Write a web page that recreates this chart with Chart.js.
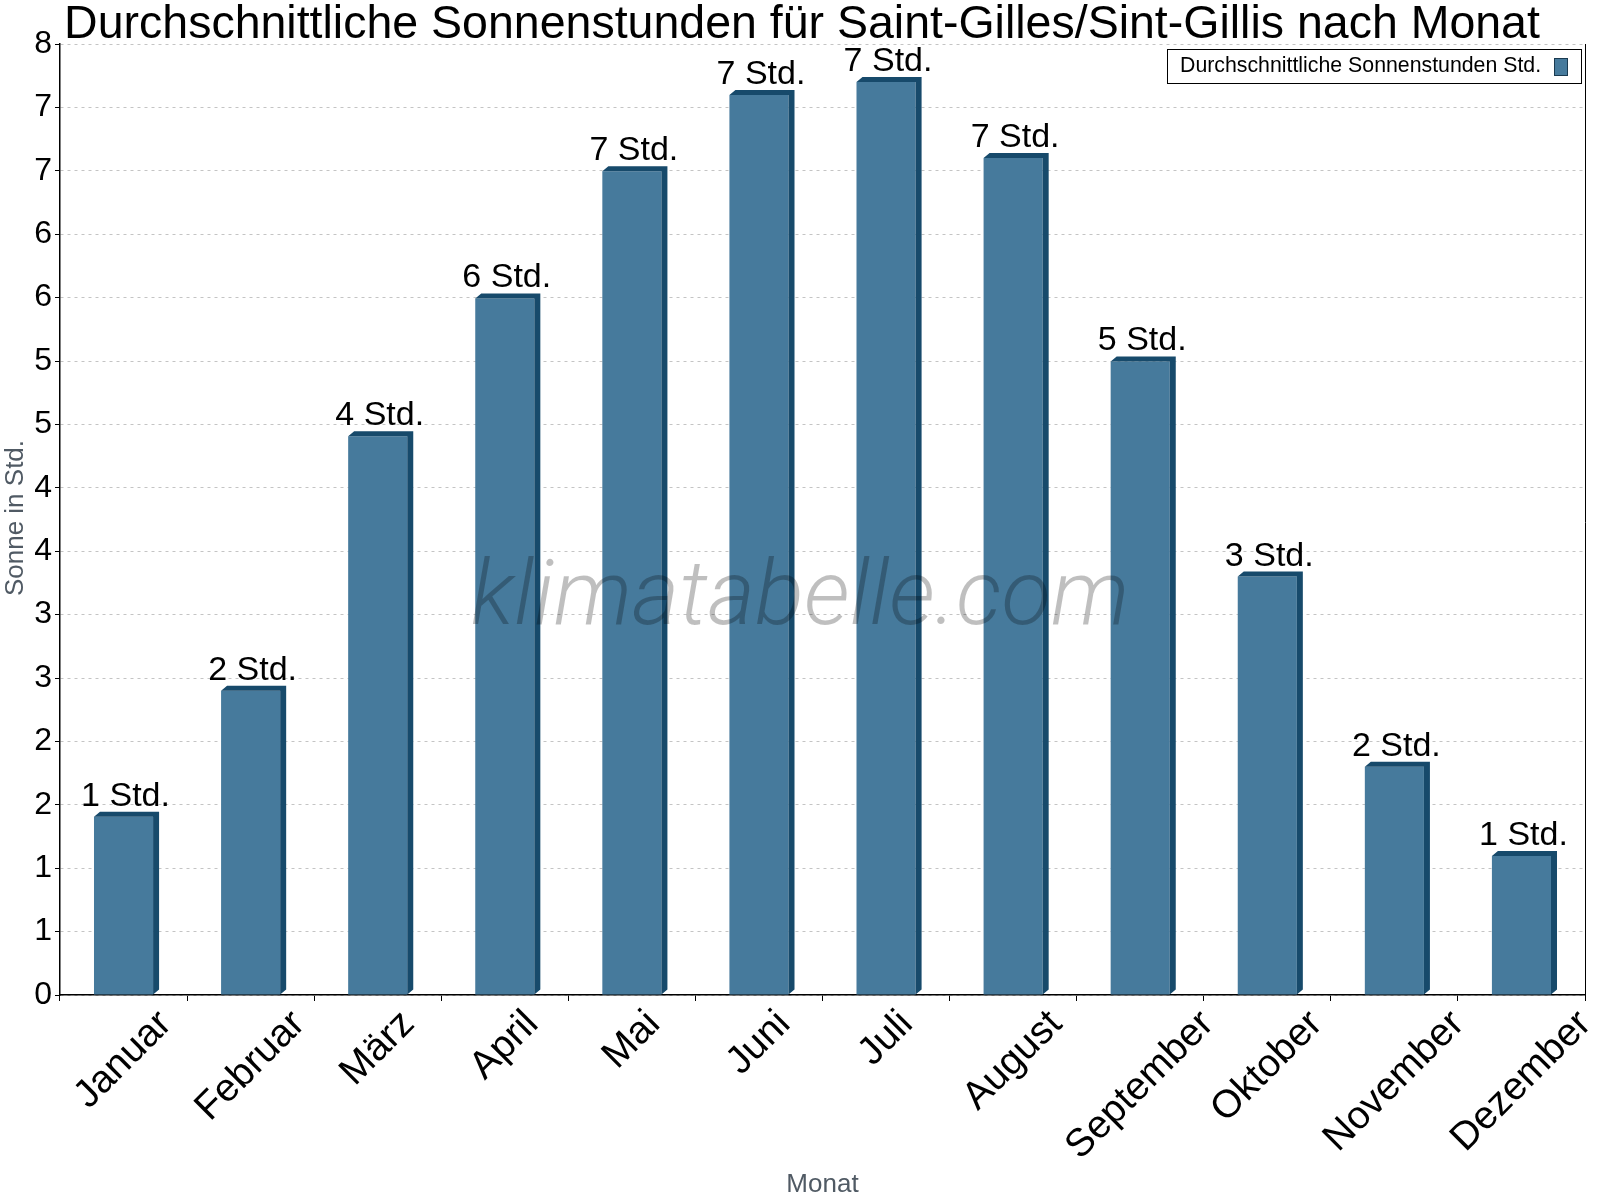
<!DOCTYPE html>
<html>
<head>
<meta charset="utf-8">
<script src="https://cdn.jsdelivr.net/npm/chart.js@4"></script>
<style>
html,body{margin:0;padding:0;background:#fff;}
#wrap{width:1600px;height:1200px;}
</style>
</head>
<body>
<div id="wrap"><canvas id="c" width="1600" height="1200"></canvas></div>
<script>
const chartTitle = "Durchschnittliche Sonnenstunden für Saint-Gilles/Sint-Gillis nach Monat";
const seriesName = "Durchschnittliche Sonnenstunden Std.";
const months = ["Januar","Februar","März","April","Mai","Juni","Juli","August","September","Oktober","November","Dezember"];
const sunHours = [1.50, 2.56, 4.70, 5.86, 6.93, 7.57, 7.68, 7.04, 5.33, 3.52, 1.92, 1.17];
const barLabelHours = [1, 2, 4, 6, 7, 7, 7, 7, 5, 3, 2, 1];
const barLabelSuffix = " Std.";
const yMin = 0, yMax = 8, yIntervals = 15;
const yAxisTitle = "Sonne in Std.";
const xAxisTitle = "Monat";
const watermark = "klimatabelle.com";

const FONT = '"Liberation Sans", Arial, sans-serif';
const FRONT = '#467a9c';
const DARK = '#174a6b';

const decor = {
  id: 'decor',
  afterDatasetsDraw(chart) {
    const ctx = chart.ctx;
    const meta = chart.getDatasetMeta(0);
    const dx = 6, dy = 5;
    ctx.save();
    meta.data.forEach((bar) => {
      const l = bar.x - bar.width / 2, r = bar.x + bar.width / 2;
      const top = bar.y, base = bar.base;
      ctx.fillStyle = DARK;
      ctx.beginPath();
      ctx.moveTo(l, top);
      ctx.lineTo(l + dx, top - dy);
      ctx.lineTo(r + dx, top - dy);
      ctx.lineTo(r + dx, base - dy);
      ctx.lineTo(r, base);
      ctx.lineTo(r, top);
      ctx.closePath();
      ctx.fill();
    });
    // watermark
    ctx.font = 'italic 300 91px Roboto, "Open Sans", sans-serif';
    ctx.fillStyle = 'rgba(0,0,0,0.25)';
    ctx.textAlign = 'center';
    ctx.textBaseline = 'alphabetic';
    ctx.fillText(watermark, 800, 624);
    // bar labels
    ctx.font = '34px ' + FONT;
    ctx.fillStyle = '#000';
    ctx.textAlign = 'center';
    meta.data.forEach((bar, i) => {
      ctx.fillText(barLabelHours[i] + barLabelSuffix, bar.x + 2, bar.y - 11);
    });
    ctx.restore();
  },
  afterDraw(chart) {
    const ctx = chart.ctx;
    const ca = chart.chartArea;
    const xs = chart.scales.x;
    ctx.save();
    // right border
    ctx.strokeStyle = '#000';
    ctx.lineWidth = 1;
    ctx.beginPath();
    ctx.moveTo(Math.round(ca.right) + 0.5, ca.top);
    ctx.lineTo(Math.round(ca.right) + 0.5, ca.bottom + 6);
    ctx.stroke();
    // title
    ctx.fillStyle = '#000';
    ctx.font = '46.5px ' + FONT;
    ctx.textAlign = 'center';
    ctx.textBaseline = 'alphabetic';
    ctx.fillText(chartTitle, 802, 38);
    // x labels rotated about their centre
    ctx.font = '39px ' + FONT;
    ctx.textBaseline = 'middle';
    months.forEach((m, i) => {
      const x = xs.getPixelForValue(i);
      const w = ctx.measureText(m).width;
      const h = 28;
      const half = (w + h) * Math.SQRT1_2 / 2;
      ctx.save();
      ctx.translate(x, 1008 + half);
      ctx.rotate(-Math.PI / 4);
      ctx.textAlign = 'center';
      ctx.fillText(m, 0, 0);
      ctx.restore();
    });
    // axis titles
    ctx.fillStyle = '#505a64';
    ctx.font = '26px ' + FONT;
    ctx.textAlign = 'center';
    ctx.textBaseline = 'middle';
    ctx.fillText(xAxisTitle, (ca.left + ca.right) / 2, 1185);
    ctx.save();
    ctx.translate(16, 518);
    ctx.rotate(-Math.PI / 2);
    ctx.fillText(yAxisTitle, 0, 0);
    ctx.restore();
    // legend
    ctx.fillStyle = '#fff';
    ctx.fillRect(1167, 49, 414, 34);
    ctx.strokeStyle = '#000';
    ctx.lineWidth = 1;
    ctx.strokeRect(1167.5, 49.5, 414, 34);
    ctx.fillStyle = '#000';
    ctx.font = '21.3px ' + FONT;
    ctx.textAlign = 'left';
    ctx.textBaseline = 'middle';
    ctx.fillText(chart.data.datasets[0].label, 1180, 66);
    ctx.fillStyle = FRONT;
    ctx.fillRect(1554, 58, 13, 17);
    ctx.strokeStyle = '#1a3a50';
    ctx.strokeRect(1554.5, 58.5, 13, 17);
    ctx.restore();
  }
};

new Chart(document.getElementById('c'), {
  type: 'bar',
  data: {
    labels: months,
    datasets: [{
      label: seriesName,
      data: sunHours,
      backgroundColor: FRONT,
      borderWidth: 0,
      barPercentage: 0.465,
      categoryPercentage: 1.0
    }]
  },
  options: {
    responsive: false,
    animation: false,
    devicePixelRatio: 1,
    layout: { padding: { top: 44, right: 15, left: 0, bottom: 0 } },
    plugins: { legend: { display: false }, title: { display: false }, tooltip: { enabled: false } },
    scales: {
      x: {
        offset: true,
        grid: { display: true, drawOnChartArea: false, drawTicks: true, tickLength: 6, tickColor: '#000', offset: true },
        border: { display: true, color: '#000', width: 1.5 },
        ticks: { display: false },
        afterFit(s) { s.height = 205; }
      },
      y: {
        min: yMin, max: yMax,
        afterBuildTicks(s) {
          const t = [];
          for (let k = 0; k <= yIntervals; k++) t.push({ value: yMin + (yMax - yMin) * k / yIntervals });
          s.ticks = t;
        },
        grid: { color: '#c4c4c4', lineWidth: 1, tickColor: '#000', tickLength: 5, drawTicks: true },
        border: { display: true, color: '#000', width: 1.5, dash: [3, 4] },
        ticks: {
          font: { family: FONT, size: 32 },
          color: '#000',
          padding: 3,
          autoSkip: false,
          callback: (v) => String(Math.round(v))
        },
        afterFit(s) { s.width = 60; }
      }
    }
  },
  plugins: [decor]
});
</script>
</body>
</html>
